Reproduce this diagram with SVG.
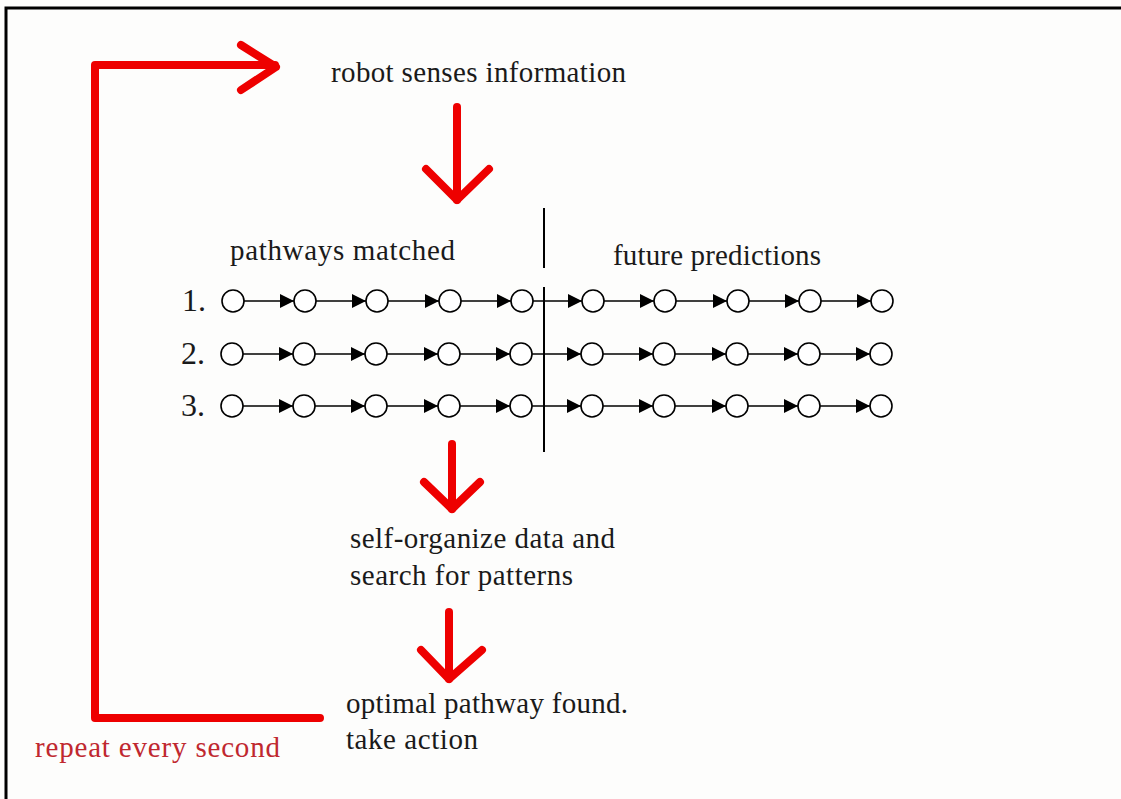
<svg xmlns="http://www.w3.org/2000/svg" width="1121" height="799" viewBox="0 0 1121 799">
<defs>
<marker id="ah" viewBox="0 0 14 14" refX="14" refY="7" markerWidth="14" markerHeight="14" markerUnits="userSpaceOnUse" orient="auto">
<path d="M0,0 L14,7 L0,14 z" fill="#000"/>
</marker>
<style>
.t{font-family:"Liberation Serif","Times New Roman",serif;font-size:29px;fill:#1a1a1a}
.big{font-size:32px}
.r{fill:none;stroke:#ee0000;stroke-width:8;stroke-linecap:round;stroke-linejoin:round}
.n{fill:#fff;stroke:#000;stroke-width:1.6}
line{stroke:#000;stroke-width:1.6;marker-end:url(#ah)}
.d{stroke:#000;stroke-width:2;fill:none}
</style>
</defs>
<rect x="0" y="0" width="1121" height="799" fill="#fdfdfc"/>
<path d="M6,799 V8 H1121" fill="none" stroke="#000" stroke-width="3"/>

<g id="loop">
<path class="r" d="M320,718 H95 V65 H275"/>
<path class="r" d="M241,45 L276,67 L241,90"/>
<text x="35" y="757" class="t" style="fill:#c0282f" textLength="245">repeat every second</text>
</g>

<g id="sense"><text x="331" y="82" class="t" textLength="295">robot senses information</text></g>

<g id="arrow1">
<path class="r" d="M457,107 V200"/>
<path class="r" d="M426,169 L457,200 L489,169"/>
</g>

<g id="headers">
<text x="230" y="260" class="t" textLength="225">pathways matched</text>
<text x="613" y="265" class="t" textLength="208">future predictions</text>
<path class="d" d="M544,208 V268 M544,287 V452"/>
</g>

<g id="labels">
<text x="182" y="311" class="t big">1.</text>
<text x="181" y="364" class="t big">2.</text>
<text x="181" y="416" class="t big">3.</text>
</g>

<g id="connectors">
<line x1="244" y1="301" x2="294" y2="301"/><line x1="316" y1="301" x2="366" y2="301"/><line x1="388" y1="301" x2="439" y2="301"/><line x1="461" y1="301" x2="511" y2="301"/><line x1="533" y1="301" x2="582" y2="301"/><line x1="604" y1="301" x2="654" y2="301"/><line x1="676" y1="301" x2="727" y2="301"/><line x1="749" y1="301" x2="799" y2="301"/><line x1="821" y1="301" x2="871" y2="301"/>
<line x1="243" y1="354" x2="293" y2="354"/><line x1="315" y1="354" x2="365" y2="354"/><line x1="387" y1="354" x2="438" y2="354"/><line x1="460" y1="354" x2="510" y2="354"/><line x1="532" y1="354" x2="581" y2="354"/><line x1="603" y1="354" x2="653" y2="354"/><line x1="675" y1="354" x2="726" y2="354"/><line x1="748" y1="354" x2="798" y2="354"/><line x1="820" y1="354" x2="870" y2="354"/>
<line x1="243" y1="406" x2="293" y2="406"/><line x1="315" y1="406" x2="365" y2="406"/><line x1="387" y1="406" x2="438" y2="406"/><line x1="460" y1="406" x2="510" y2="406"/><line x1="532" y1="406" x2="581" y2="406"/><line x1="603" y1="406" x2="653" y2="406"/><line x1="675" y1="406" x2="726" y2="406"/><line x1="748" y1="406" x2="798" y2="406"/><line x1="820" y1="406" x2="870" y2="406"/>
</g>

<g id="row1">
<circle class="n" cx="233" cy="301" r="11"/><circle class="n" cx="305" cy="301" r="11"/><circle class="n" cx="377" cy="301" r="11"/><circle class="n" cx="450" cy="301" r="11"/><circle class="n" cx="522" cy="301" r="11"/><circle class="n" cx="593" cy="301" r="11"/><circle class="n" cx="665" cy="301" r="11"/><circle class="n" cx="738" cy="301" r="11"/><circle class="n" cx="810" cy="301" r="11"/><circle class="n" cx="882" cy="301" r="11"/>
</g>
<g id="row2">
<circle class="n" cx="232" cy="354" r="11"/><circle class="n" cx="304" cy="354" r="11"/><circle class="n" cx="376" cy="354" r="11"/><circle class="n" cx="449" cy="354" r="11"/><circle class="n" cx="521" cy="354" r="11"/><circle class="n" cx="592" cy="354" r="11"/><circle class="n" cx="664" cy="354" r="11"/><circle class="n" cx="737" cy="354" r="11"/><circle class="n" cx="809" cy="354" r="11"/><circle class="n" cx="881" cy="354" r="11"/>
</g>
<g id="row3">
<circle class="n" cx="232" cy="406" r="11"/><circle class="n" cx="304" cy="406" r="11"/><circle class="n" cx="376" cy="406" r="11"/><circle class="n" cx="449" cy="406" r="11"/><circle class="n" cx="521" cy="406" r="11"/><circle class="n" cx="592" cy="406" r="11"/><circle class="n" cx="664" cy="406" r="11"/><circle class="n" cx="737" cy="406" r="11"/><circle class="n" cx="809" cy="406" r="11"/><circle class="n" cx="881" cy="406" r="11"/>
</g>

<g id="arrow2">
<path class="r" d="M452,444 V509"/>
<path class="r" d="M424,482 L452,509 L480,482"/>
</g>

<g id="organize">
<text x="350" y="548" class="t" textLength="265">self-organize data and</text>
<text x="350" y="585" class="t" textLength="223">search for patterns</text>
</g>

<g id="arrow3">
<path class="r" d="M449,612 V679"/>
<path class="r" d="M421,650 L449,679 L482,650"/>
</g>

<g id="optimal">
<text x="346" y="713" class="t" textLength="282">optimal pathway found.</text>
<text x="346" y="749" class="t" textLength="132">take action</text>
</g>
</svg>
